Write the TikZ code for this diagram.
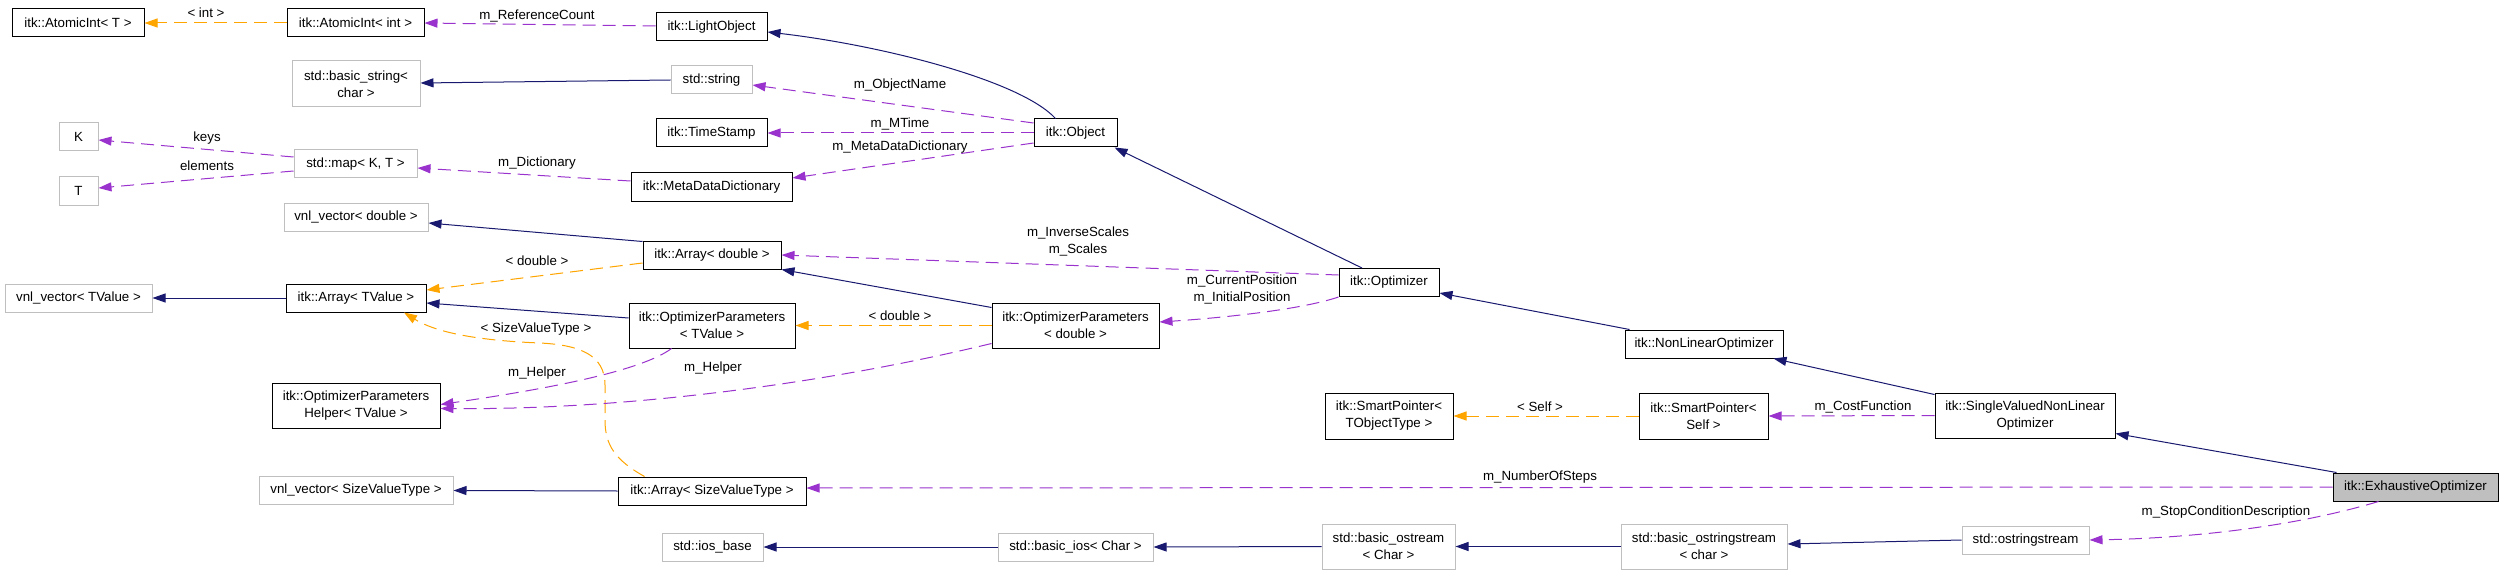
\documentclass[tikz,border=0pt]{standalone}
\usepackage{fontspec}
\setmainfont{Liberation Sans}
\usetikzlibrary{arrows.meta,calc}
\definecolor{inhc}{HTML}{191970}
\definecolor{usec}{HTML}{9A32CD}
\definecolor{tplc}{HTML}{FFA500}
\definecolor{greyb}{HTML}{BFBFBF}
\begin{document}
\begin{tikzpicture}[x=1pt,y=-1pt,
  cls/.style={draw=black, line width=1pt, inner sep=0pt, align=center, font=\fontsize{13.3}{17}\selectfont, text=black, minimum height=28pt},
  ext/.style={cls, draw=greyb},
  cur/.style={cls, fill=greyb},
  tip/.style={-{Triangle[length=13pt,width=9pt]}},
  inh/.style={draw=inhc, line width=1pt, tip},
  tpl/.style={draw=tplc, line width=1pt, dash pattern=on 13pt off 7pt, tip},
  usg/.style={draw=usec, line width=1pt, dash pattern=on 13pt off 7pt, tip},
  lbl/.style={inner sep=0pt, align=center, font=\fontsize{13.3}{17}\selectfont}]
\useasboundingbox (0,0) rectangle (2504,575);
% nodes
\node[cls, minimum width=132pt] (ait) at (78,23) {itk::AtomicInt< T >};
\node[cls, minimum width=137pt] (aiint) at (355.5,23) {itk::AtomicInt< int >};
\node[cls, minimum width=111pt] (lobj) at (711.5,27) {itk::LightObject};
\node[ext, minimum width=128pt, minimum height=46pt] (bstr) at (356,84) {std::basic\_string<\\char >};
\node[ext, minimum width=81pt] (str) at (711.5,80) {std::string};
\node[cls, minimum width=111pt] (ts) at (711.5,133) {itk::TimeStamp};
\node[cls, minimum width=83pt] (obj) at (1075.5,133) {itk::Object};
\node[ext, minimum width=39pt] (K) at (78.5,137) {K};
\node[ext, minimum width=39pt] (T) at (78.5,191) {T};
\node[ext, minimum width=123pt] (map) at (355.5,164) {std::map< K, T >};
\node[cls, minimum width=161pt] (mdd) at (711.5,187) {itk::MetaDataDictionary};
\node[ext, minimum width=144pt] (vd) at (356,217) {vnl\_vector< double >};
\node[cls, minimum width=138pt] (ad) at (712,255) {itk::Array< double >};
\node[ext, minimum width=147pt] (vt) at (78.5,298) {vnl\_vector< TValue >};
\node[cls, minimum width=140pt] (at) at (356,298) {itk::Array< TValue >};
\node[cls, minimum width=166pt, minimum height=45pt] (opt) at (712,325.5) {itk::OptimizerParameters\\< TValue >};
\node[cls, minimum width=167pt, minimum height=45pt] (opd) at (1075.5,325.5) {itk::OptimizerParameters\\< double >};
\node[cls, minimum width=100pt] (optim) at (1389,282.5) {itk::Optimizer};
\node[cls, minimum width=158pt] (nlo) at (1704,344) {itk::NonLinearOptimizer};
\node[cls, minimum width=168pt, minimum height=45pt] (help) at (356,405.5) {itk::OptimizerParameters\\Helper< TValue >};
\node[ext, minimum width=194pt] (vs) at (356,490.5) {vnl\_vector< SizeValueType >};
\node[cls, minimum width=188pt] (as) at (712,491) {itk::Array< SizeValueType >};
\node[ext, minimum width=101pt] (iosb) at (712.5,547) {std::ios\_base};
\node[ext, minimum width=155pt] (bios) at (1075.5,547) {std::basic\_ios< Char >};
\node[ext, minimum width=133pt, minimum height=45pt] (bos) at (1388.5,546.5) {std::basic\_ostream\\< Char >};
\node[ext, minimum width=166pt, minimum height=45pt] (boss) at (1704,546.5) {std::basic\_ostringstream\\< char >};
\node[cls, minimum width=128pt, minimum height=46pt] (spt) at (1389,416) {itk::SmartPointer<\\TObjectType >};
\node[cls, minimum width=129pt, minimum height=46pt] (sps) at (1703.5,416) {itk::SmartPointer<\\Self >};
\node[cls, minimum width=180pt, minimum height=45pt] (sv) at (2025,415.5) {itk::SingleValuedNonLinear\\Optimizer};
\node[cur, minimum width=165pt] (ex) at (2415.5,487) {itk::ExhaustiveOptimizer};
\node[ext, minimum width=127pt] (oss) at (2025.5,540) {std::ostringstream};
% inheritance
\draw[inh] ($(obj.north)+(-20,0)$) .. controls (1020,80) and (880,45) .. ($(lobj.east)+(0,5)$);
\draw[inh] (str.west) -- ($(bstr.east)+(0,-1)$);
\draw[inh] ($(optim.north)+(-27,0)$) -- ($(obj.south east)+(-3,0)$);
\draw[inh] ($(ad.north west)+(0,1)$) -- ($(vd.east)+(0,6)$);
\draw[inh] (at.west) -- (vt.east);
\draw[inh] ($(opt.west)+(0,-7.5)$) -- ($(at.east)+(0,5)$);
\draw[inh] ($(opd.north west)+(0,5)$) -- (ad.south east);
\draw[inh] ($(nlo.north west)+(5,0)$) -- ($(optim.east)+(0,10.5)$);
\draw[inh] ($(sv.north west)+(0,2)$) -- ($(nlo.south east)+(-10,0)$);
\draw[inh] ($(ex.north west)+(4,0)$) -- ($(sv.south east)+(0,-5)$);
\draw[inh] (as.west) -- (vs.east);
\draw[inh] (bios.west) -- (iosb.east);
\draw[inh] (bos.west) -- (bios.east);
\draw[inh] (boss.west) -- (bos.east);
\draw[inh] (oss.west) -- ($(boss.east)+(0,-2.5)$);
% template instantiation
\draw[tpl] (aiint.west) -- (ait.east);
\node[lbl] (l1) at (206,13) {< int >};
\draw[tpl] ($(ad.west)+(0,8)$) -- ($(at.east)+(0,-8)$);
\node[lbl] (l2) at (537,261) {< double >};
\draw[tpl] (opd.west) -- (opt.east);
\node[lbl] (l3) at (900,316) {< double >};
\draw[tpl] ($(as.north west)+(27,0)$) .. controls (615,460) and (605,445) .. (605,420) -- (605,385) .. controls (605,355) and (580,345) .. (540,343) .. controls (490,341) and (440,335) .. ($(at.south)+(48,0)$);
\node[lbl] (l4) at (536,329) {< SizeValueType >};
\draw[tpl] (sps.west) -- (spt.east);
\node[lbl] (l5) at (1540,407) {< Self >};
% usage
\draw[usg] ($(lobj.west)+(0,-1)$) -- (aiint.east);
\node[lbl] (u1) at (537,16) {m\_ReferenceCount};
\draw[usg] ($(obj.west)+(0,-10)$) -- ($(str.east)+(0,5)$);
\node[lbl] (u2) at (900,85) {m\_ObjectName};
\draw[usg] (obj.west) -- (ts.east);
\node[lbl] (u3) at (900,124) {m\_MTime};
\draw[usg] ($(obj.west)+(0,10)$) -- ($(mdd.east)+(0,-9)$);
\node[lbl] (u4) at (900,147) {m\_MetaDataDictionary};
\draw[usg] ($(mdd.west)+(0,-6)$) -- ($(map.east)+(0,4)$);
\node[lbl] (u5) at (537,163) {m\_Dictionary};
\draw[usg] ($(map.west)+(0,-7)$) -- ($(K.east)+(0,3)$);
\node[lbl] (u6) at (207,138) {keys};
\draw[usg] ($(map.west)+(0,7)$) -- ($(T.east)+(0,-3)$);
\node[lbl] (u7) at (207,166) {elements};
\draw[usg] ($(optim.west)+(0,-7.5)$) -- (ad.east);
\node[lbl] (u8) at (1078,242) {m\_InverseScales\\m\_Scales};
\draw[usg] (optim.south west) .. controls (1300,310) and (1220,318) .. ($(opd.east)+(0,-3.5)$);
\node[lbl] (u9) at (1242,290) {m\_CurrentPosition\\m\_InitialPosition};
\draw[usg] ($(opt.south west)+(43,0)$) .. controls (640,372) and (540,390) .. ($(help.east)+(0,-1)$);
\node[lbl] (u10) at (537,373) {m\_Helper};
\draw[usg] ($(opd.south west)+(0,-5)$) .. controls (820,385) and (620,410) .. ($(help.east)+(0,3)$);
\node[lbl] (u11) at (713,368) {m\_Helper};
\draw[usg] (sv.west) -- (sps.east);
\node[lbl] (u12) at (1863,407) {m\_CostFunction};
\draw[usg] (ex.west) -- ($(as.east)+(0,-3)$);
\node[lbl] (u13) at (1540,477) {m\_NumberOfSteps};
\draw[usg] ($(ex.south)+(-37,0)$) .. controls (2300,525) and (2200,538) .. (oss.east);
\node[lbl] (u14) at (2226,512) {m\_StopConditionDescription};
\end{tikzpicture}
\end{document}
